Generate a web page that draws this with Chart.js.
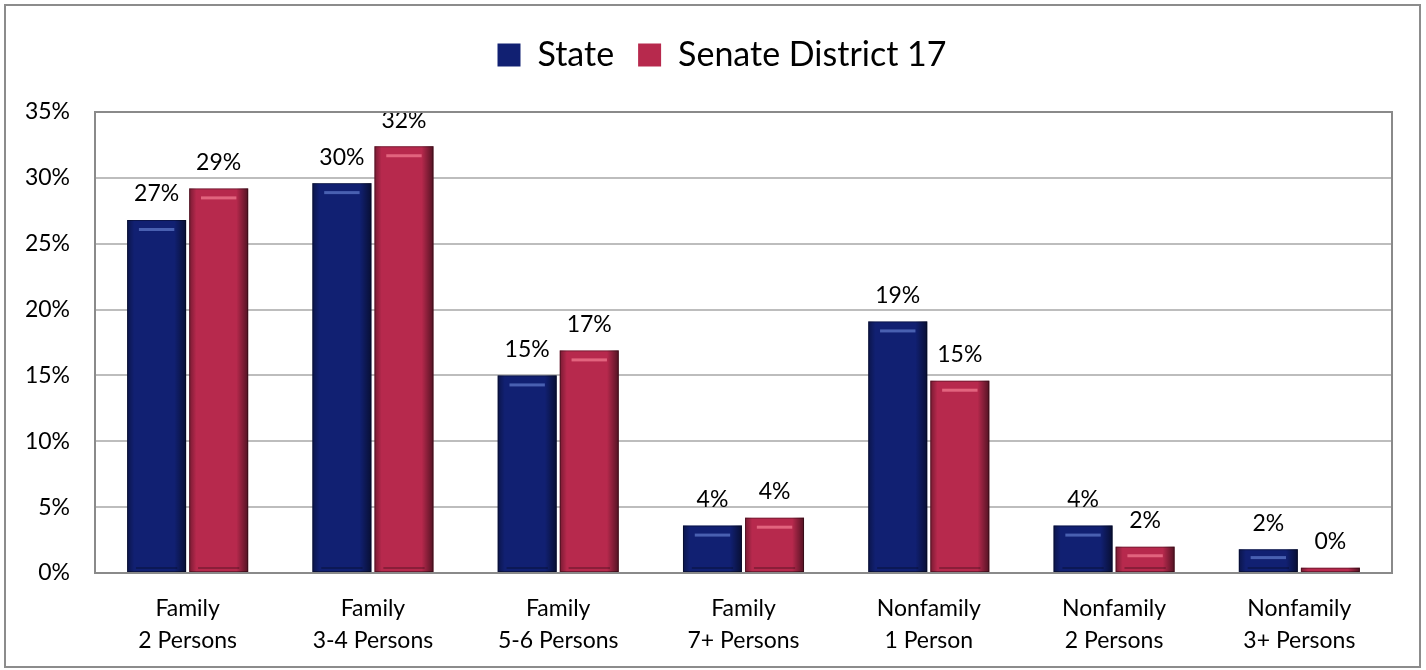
<!DOCTYPE html>
<html>
<head>
<meta charset="utf-8">
<script src="https://cdn.jsdelivr.net/npm/chart.js@4.4.1/dist/chart.umd.min.js"></script>
<style>
html,body{margin:0;padding:0;background:#fff;}
#wrap{width:1426px;height:670px;position:relative;}
</style>
</head>
<body>
<div id="wrap"><canvas id="c" width="1426" height="670"></canvas></div>
<script>
const categories = [
  ["Family", "2 Persons"],
  ["Family", "3-4 Persons"],
  ["Family", "5-6 Persons"],
  ["Family", "7+ Persons"],
  ["Nonfamily", "1 Person"],
  ["Nonfamily", "2 Persons"],
  ["Nonfamily", "3+ Persons"]
];
const stateValues = [26.8, 29.6, 15.0, 3.6, 19.1, 3.6, 1.8];
const senateValues = [29.2, 32.4, 16.9, 4.2, 14.6, 2.0, 0.4];
const seriesNames = ["State", "Senate District 17"];
const yTicks = [0, 5, 10, 15, 20, 25, 30, 35];

const FONT = "Lato, 'Open Sans', sans-serif";
const navy = "#112072";
const crimson = "#b7294d";

const frame = {
  id: 'frame',
  afterInit(chart) {
    const l = chart.legend;
    if (l && !l._patched) {
      const f = l.fit.bind(l);
      l.fit = function () { f(); this.height += 30; };
      l._patched = true;
    }
  },
  afterLayout(chart) {
    const l = chart.legend;
    if (l) { l.left += 26; l.right += 26; }
  },
  beforeDraw(chart) {
    const ctx = chart.ctx;
    ctx.save();
    ctx.fillStyle = '#fff';
    ctx.fillRect(0, 0, chart.width, chart.height);
    ctx.strokeStyle = '#8c8c8c';
    ctx.lineWidth = 2;
    ctx.strokeRect(5, 5, 1415, 662);
    ctx.restore();
  },
  afterDraw(chart) {
    const a = chart.chartArea, ctx = chart.ctx;
    ctx.save();
    ctx.strokeStyle = '#8a8a8a';
    ctx.lineWidth = 2;
    ctx.strokeRect(a.left, a.top, a.right - a.left, a.bottom - a.top);
    ctx.restore();
  }
};

const bevel = {
  id: 'bevel',
  afterDatasetsDraw(chart) {
    const ctx = chart.ctx;
    chart.data.datasets.forEach((ds, di) => {
      const meta = chart.getDatasetMeta(di);
      meta.data.forEach((bar, i) => {
        const p = bar.getProps(['x', 'y', 'width', 'base'], true);
        const l = p.x - p.width / 2, r = p.x + p.width / 2, t = p.y, b = p.base;
        const h = b - t;
        ctx.save();
        const g = ctx.createLinearGradient(l, 0, r, 0);
        g.addColorStop(0, 'rgba(0,0,0,0.35)');
        g.addColorStop(0.12, 'rgba(0,0,0,0.0)');
        g.addColorStop(0.8, 'rgba(0,0,0,0.0)');
        g.addColorStop(1, 'rgba(0,0,0,0.55)');
        ctx.fillStyle = g;
        ctx.fillRect(l, t, p.width, h);
        if (h > 8) {
          ctx.fillStyle = di === 0 ? 'rgba(120,150,230,0.55)' : 'rgba(255,140,160,0.6)';
          ctx.fillRect(l + p.width * 0.2, t + Math.min(8, h * 0.3), p.width * 0.6, 3);
          ctx.fillStyle = 'rgba(0,0,0,0.25)';
          ctx.fillRect(l + p.width * 0.15, b - 5, p.width * 0.7, 2);
        }
        ctx.strokeStyle = 'rgba(0,0,0,0.35)';
        ctx.lineWidth = 1;
        ctx.strokeRect(l + 0.5, t + 0.5, p.width - 1, h - 1);
        ctx.restore();
        ctx.save();
        ctx.fillStyle = '#000';
        ctx.font = "23px " + FONT;
        ctx.textAlign = 'center';
        ctx.textBaseline = 'middle';
        ctx.fillText(Math.round(ds.data[i]) + '%', p.x, t - 26);
        ctx.restore();
      });
    });
  }
};

new Chart(document.getElementById('c'), {
  type: 'bar',
  data: {
    labels: categories,
    datasets: [
      { label: seriesNames[0], data: stateValues, backgroundColor: navy, borderWidth: 0,
        categoryPercentage: 0.67, barPercentage: 0.95 },
      { label: seriesNames[1], data: senateValues, backgroundColor: crimson, borderWidth: 0,
        categoryPercentage: 0.67, barPercentage: 0.95 }
    ]
  },
  options: {
    responsive: false,
    animation: false,
    devicePixelRatio: 1,
    layout: { padding: { top: 14, right: 34, bottom: 0, left: 0 } },
    plugins: {
      legend: {
        display: true,
        position: 'top',
        labels: {
          font: { family: FONT, size: 34 },
          color: '#000',
          boxWidth: 23,
          boxHeight: 23,
          padding: 24,
          generateLabels(chart) {
            return chart.data.datasets.map((d, i) => ({
              text: d.label, fillStyle: d.backgroundColor, strokeStyle: d.backgroundColor,
              lineWidth: 0, datasetIndex: i, hidden: false
            }));
          }
        }
      },
      tooltip: { enabled: false }
    },
    scales: {
      x: {
        grid: { display: false, drawTicks: false },
        border: { display: false },
        ticks: { font: { family: FONT, size: 23, lineHeight: 1.42 }, color: '#000', padding: 19, maxRotation: 0 },
        afterFit(s) { s.height = 97; }
      },
      y: {
        min: 0, max: 35,
        afterBuildTicks(s) { s.ticks = yTicks.map(v => ({ value: v })); },
        grid: { color: '#bdbdbd', lineWidth: 2, drawTicks: false },
        border: { display: false },
        ticks: { font: { family: FONT, size: 23 }, color: '#000', padding: 25,
          callback: v => v + '%' },
        afterFit(s) { s.width = 95; }
      }
    }
  },
  plugins: [frame, bevel]
});
</script>
</body>
</html>
